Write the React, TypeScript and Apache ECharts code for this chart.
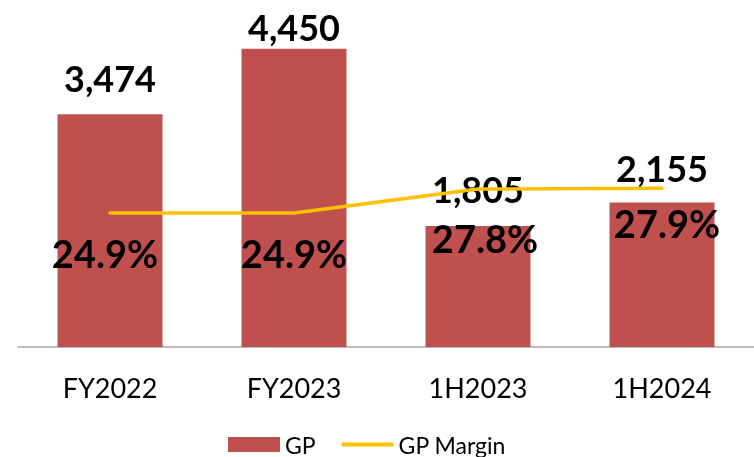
import React, { useEffect, useRef } from "react";
import * as echarts from "echarts";

const categories = ["FY2022", "FY2023", "1H2023", "1H2024"];
const gpValues = [3474, 4450, 1805, 2155];
const marginValues = [24.9, 24.9, 27.8, 27.9];
const barLabelDistance = [18, 4, 19, 17];
const marginLabelOffsets = [[-5, 40], [0, 40], [7, 49], [5, 35]];

const FONT = "Lato, 'Open Sans', sans-serif";

export default function App() {
  const ref = useRef<HTMLDivElement>(null);
  useEffect(() => {
    if (!ref.current) return;
    const chart = echarts.init(ref.current, undefined, { renderer: "svg" });
    chart.setOption({
      animation: false,
      textStyle: { fontFamily: FONT },
      grid: { left: 18, right: 0, top: 12, bottom: 110, containLabel: false },
      legend: {
        left: 228,
        top: 433,
        padding: 0,
        itemWidth: 52,
        itemHeight: 15,
        itemGap: 26,
        textStyle: { fontFamily: FONT, fontSize: 23, color: "#000" },
        data: [
          { name: "GP", icon: "rect" },
          {
            name: "GP Margin",
            icon: "path://M0,0h52v4h-52z",
            itemStyle: { color: "#FFC000" },
          },
        ],
      },
      xAxis: {
        type: "category",
        data: categories,
        axisLine: { lineStyle: { color: "#A6A6A6", width: 1.5 } },
        axisTick: { show: false },
        axisLabel: { fontFamily: FONT, fontSize: 27, color: "#000", margin: 27 },
      },
      yAxis: [
        { type: "value", min: 0, max: 5000, show: false, splitLine: { show: false } },
        { type: "value", min: 8.72, max: 49.18, show: false, splitLine: { show: false } },
      ],
      series: [
        {
          name: "GP",
          type: "bar",
          barWidth: 105,
          itemStyle: { color: "#C0504D" },
          data: gpValues.map((v, i) => ({
            value: v,
            label: { distance: barLabelDistance[i] },
          })),
          label: {
            show: true,
            position: "top",
            fontFamily: FONT,
            fontSize: 36,
            fontWeight: "bold",
            color: "#000",
            formatter: (p: any) => Number(p.value).toLocaleString("en-US"),
          },
          z: 2,
        },
        {
          name: "GP Margin",
          type: "line",
          yAxisIndex: 1,
          showSymbol: true,
          symbol: "circle",
          symbolSize: 0,
          lineStyle: { color: "#FFC000", width: 3.5, cap: "round" },
          itemStyle: { color: "#FFC000" },
          data: marginValues.map((v, i) => ({
            value: v,
            label: { offset: marginLabelOffsets[i] },
          })),
          label: {
            show: true,
            position: "inside",
            fontFamily: FONT,
            fontSize: 38,
            fontWeight: "bold",
            color: "#000",
            formatter: (p: any) => Number(p.value).toFixed(1) + "%",
          },
          z: 3,
        },
      ],
    });
    return () => chart.dispose();
  }, []);
  return (
    <div
      ref={ref}
      style={{ position: "fixed", left: 0, top: 0, width: 754, height: 457 }}
    />
  );
}
